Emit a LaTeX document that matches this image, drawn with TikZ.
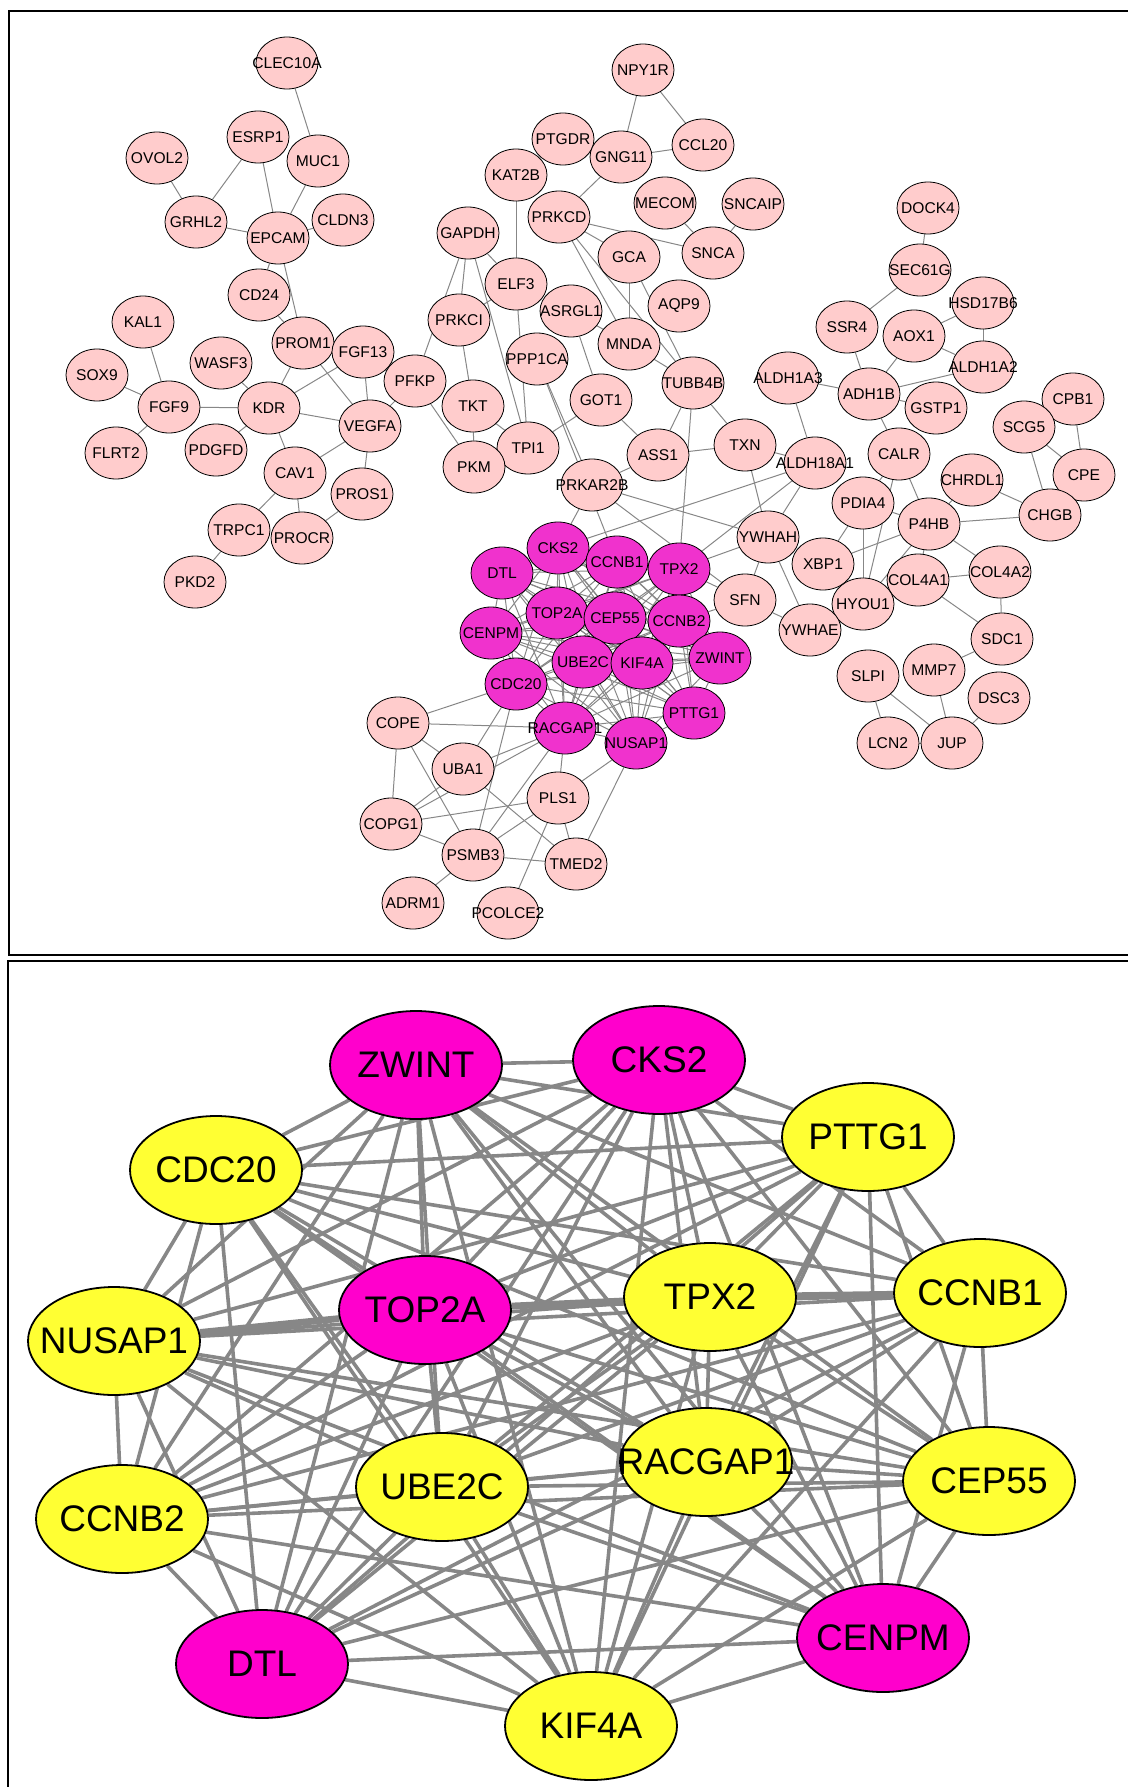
\documentclass[tikz,border=0pt]{standalone}
\usepackage{fontspec}
\setmainfont{Liberation Sans}
\usepackage{tikz}
\usetikzlibrary {backgrounds,
                 shapes.geometric}
\definecolor{genepink}{RGB}{255,204,204}
\definecolor{hubpink}{RGB}{240,50,205}
\definecolor{hubmagenta}{RGB}{255,0,204}
\definecolor{hubyellow}{RGB}{255,255,51}
\definecolor{linkgray}{RGB}{135,135,135}
\tikzset{
         gene/.style={ellipse, draw, line width=0.4pt, fill=genepink, inner sep=0pt,
                      minimum width=31pt, minimum height=26pt,
                      font=\fontsize{7.8}{9}\selectfont,
                      execute at begin node={\hbox to 0pt\bgroup\hss},
                      execute at end node={\hss\egroup}},
         hub/.style={gene, fill=hubpink},
         bighub/.style={gene, line width=0.9pt, fill=hubyellow,
                        minimum width=86pt, minimum height=54pt,
                        font=\fontsize{18.5}{21}\selectfont},
         bigkey/.style={bighub, fill=hubmagenta},
         link/.style={draw=linkgray, line width=0.5pt},
         hublink/.style={draw=linkgray, line width=1.8pt},
         heavylink/.style={draw=linkgray, line width=3.4pt},
         panel/.style={draw=black, line width=1pt},
}
\def\hubs{ZWINT,CKS2,PTTG1,CDC20,TOP2A,TPX2,CCNB1,NUSAP1,RACGAP1,CEP55,UBE2C,CCNB2,DTL,CENPM,KIF4A}

\begin{document}
\begin{tikzpicture}[x=0.5pt, y=-0.5pt]
    \useasboundingbox (0,0) rectangle (1128,1787);

    % Rahmen
    \draw[panel] (1130,11) -- (9,11) -- (9,955) -- (1130,955);
    \draw[panel] (1130,961) -- (8,961) -- (8,1790);

    % Oben links
    \node[gene] (CLEC10A) at (287,63) {CLEC10A};
    \node[gene] (ESRP1) at (258,137) {ESRP1};
    \node[gene] (MUC1) at (318,161) {MUC1};
    \node[gene] (OVOL2) at (157,158) {OVOL2};
    \node[gene] (GRHL2) at (196,222) {GRHL2};
    \node[gene] (EPCAM) at (278,238) {EPCAM};
    \node[gene] (CLDN3) at (343,220) {CLDN3};
    \node[gene] (CD24) at (259,295) {CD24};
    \node[gene] (KAL1) at (143,322) {KAL1};
    \node[gene] (PROM1) at (303,343) {PROM1};
    \node[gene] (FGF13) at (363,352) {FGF13};
    \node[gene] (WASF3) at (221,363) {WASF3};
    \node[gene] (SOX9) at (97,375) {SOX9};
    \node[gene] (FGF9) at (169,407) {FGF9};
    \node[gene] (KDR) at (269,408) {KDR};
    \node[gene] (VEGFA) at (370,426) {VEGFA};
    \node[gene] (FLRT2) at (116,453) {FLRT2};
    \node[gene] (PDGFD) at (216,450) {PDGFD};
    \node[gene] (CAV1) at (295,473) {CAV1};
    \node[gene] (PROS1) at (362,494) {PROS1};
    \node[gene] (TRPC1) at (239,530) {TRPC1};
    \node[gene] (PROCR) at (302,538) {PROCR};
    \node[gene] (PKD2) at (195,582) {PKD2};

    % Oben Mitte
    \node[gene] (NPY1R) at (643,70) {NPY1R};
    \node[gene] (PTGDR) at (563,139) {PTGDR};
    \node[gene] (GNG11) at (621,157) {GNG11};
    \node[gene] (CCL20) at (703,145) {CCL20};
    \node[gene] (KAT2B) at (516,175) {KAT2B};
    \node[gene] (MECOM) at (665,203) {MECOM};
    \node[gene] (SNCAIP) at (753,204) {SNCAIP};
    \node[gene] (PRKCD) at (559,217) {PRKCD};
    \node[gene] (GAPDH) at (468,233) {GAPDH};
    \node[gene] (SNCA) at (713,253) {SNCA};
    \node[gene] (GCA) at (629,257) {GCA};
    \node[gene] (ELF3) at (516,284) {ELF3};
    \node[gene] (AQP9) at (679,306) {AQP9};
    \node[gene] (ASRGL1) at (571,311) {ASRGL1};
    \node[gene] (PRKCI) at (459,320) {PRKCI};
    \node[gene] (MNDA) at (629,344) {MNDA};
    \node[gene] (PPP1CA) at (537,359) {PPP1CA};
    \node[gene] (PFKP) at (415,381) {PFKP};
    \node[gene] (TUBB4B) at (693,383) {TUBB4B};
    \node[gene] (GOT1) at (601,400) {GOT1};
    \node[gene] (TKT) at (473,406) {TKT};
    \node[gene] (TXN) at (745,445) {TXN};
    \node[gene] (TPI1) at (528,448) {TPI1};
    \node[gene] (ASS1) at (658,455) {ASS1};
    \node[gene] (PKM) at (474,467) {PKM};
    \node[gene] (PRKAR2B) at (592,485) {PRKAR2B};

    % Oben rechts
    \node[gene] (DOCK4) at (928,208) {DOCK4};
    \node[gene] (SEC61G) at (920,270) {SEC61G};
    \node[gene] (HSD17B6) at (983,303) {HSD17B6};
    \node[gene] (SSR4) at (847,327) {SSR4};
    \node[gene] (AOX1) at (914,336) {AOX1};
    \node[gene] (ALDH1A2) at (983,367) {ALDH1A2};
    \node[gene] (ALDH1A3) at (788,378) {ALDH1A3};
    \node[gene] (ADH1B) at (869,394) {ADH1B};
    \node[gene] (GSTP1) at (936,408) {GSTP1};
    \node[gene] (CPB1) at (1073,399) {CPB1};
    \node[gene] (SCG5) at (1024,427) {SCG5};
    \node[gene] (CALR) at (899,454) {CALR};
    \node[gene] (ALDH18A1) at (815,463) {ALDH18A1};
    \node[gene] (CPE) at (1084,475) {CPE};
    \node[gene] (CHRDL1) at (972,480) {CHRDL1};
    \node[gene] (PDIA4) at (863,503) {PDIA4};
    \node[gene] (CHGB) at (1050,515) {CHGB};
    \node[gene] (P4HB) at (929,524) {P4HB};
    \node[gene] (YWHAH) at (768,537) {YWHAH};
    \node[gene] (XBP1) at (823,564) {XBP1};
    \node[gene] (COL4A2) at (1000,572) {COL4A2};
    \node[gene] (COL4A1) at (918,580) {COL4A1};
    \node[gene] (SFN) at (745,600) {SFN};
    \node[gene] (HYOU1) at (863,604) {HYOU1};
    \node[gene] (YWHAE) at (810,630) {YWHAE};
    \node[gene] (SDC1) at (1002,639) {SDC1};
    \node[gene] (MMP7) at (934,670) {MMP7};
    \node[gene] (SLPI) at (868,676) {SLPI};
    \node[gene] (DSC3) at (999,698) {DSC3};
    \node[gene] (LCN2) at (888,743) {LCN2};
    \node[gene] (JUP) at (952,743) {JUP};

    % Oben unten
    \node[gene] (COPE) at (398,723) {COPE};
    \node[gene] (UBA1) at (463,769) {UBA1};
    \node[gene] (PLS1) at (558,798) {PLS1};
    \node[gene] (COPG1) at (391,824) {COPG1};
    \node[gene] (PSMB3) at (473,855) {PSMB3};
    \node[gene] (TMED2) at (576,864) {TMED2};
    \node[gene] (ADRM1) at (413,903) {ADRM1};
    \node[gene] (PCOLCE2) at (508,913) {PCOLCE2};

    % Cluster
    \node[hub] (CKS2) at (558,548) {CKS2};
    \node[hub] (DTL) at (502,573) {DTL};
    \node[hub] (CCNB1) at (617,562) {CCNB1};
    \node[hub] (TPX2) at (679,569) {TPX2};
    \node[hub] (TOP2A) at (557,613) {TOP2A};
    \node[hub] (CEP55) at (615,618) {CEP55};
    \node[hub] (CCNB2) at (679,621) {CCNB2};
    \node[hub] (CENPM) at (491,633) {CENPM};
    \node[hub] (ZWINT) at (720,658) {ZWINT};
    \node[hub] (UBE2C) at (583,662) {UBE2C};
    \node[hub] (KIF4A) at (642,663) {KIF4A};
    \node[hub] (CDC20) at (516,684) {CDC20};
    \node[hub] (PTTG1) at (694,713) {PTTG1};
    \node[hub] (RACGAP1) at (565,728) {RACGAP1};
    \node[hub] (NUSAP1) at (636,743) {NUSAP1};

    % Unten: Hub-Gene
    \node[bigkey] (hZWINT) at (416,1065) {ZWINT};
    \node[bigkey] (hCKS2) at (659,1060) {CKS2};
    \node[bighub] (hPTTG1) at (868,1137) {PTTG1};
    \node[bighub] (hCDC20) at (216,1170) {CDC20};
    \node[bigkey] (hTOP2A) at (425,1310) {TOP2A};
    \node[bighub] (hTPX2) at (710,1297) {TPX2};
    \node[bighub] (hCCNB1) at (980,1293) {CCNB1};
    \node[bighub] (hNUSAP1) at (114,1341) {NUSAP1};
    \node[bighub] (hRACGAP1) at (706,1462) {RACGAP1};
    \node[bighub] (hCEP55) at (989,1481) {CEP55};
    \node[bighub] (hUBE2C) at (442,1487) {UBE2C};
    \node[bighub] (hCCNB2) at (122,1519) {CCNB2};
    \node[bigkey] (hDTL) at (262,1664) {DTL};
    \node[bigkey] (hCENPM) at (883,1638) {CENPM};
    \node[bighub] (hKIF4A) at (591,1726) {KIF4A};

    % Kanten
    \begin{scope}[on background layer]
        \foreach \u/\v in {CLEC10A/MUC1, OVOL2/GRHL2, GRHL2/ESRP1, GRHL2/EPCAM, ESRP1/EPCAM,
                           MUC1/EPCAM, EPCAM/CLDN3, EPCAM/CD24, EPCAM/PROM1, CD24/PROM1,
                           PROM1/KDR, PROM1/VEGFA, FGF13/KDR, FGF13/VEGFA, KAL1/FGF9,
                           SOX9/FGF9, FLRT2/FGF9, FGF9/KDR, WASF3/KDR, PDGFD/KDR, KDR/VEGFA,
                           KDR/CAV1, VEGFA/PFKP, VEGFA/CAV1, VEGFA/PROS1, CAV1/TRPC1,
                           CAV1/PROCR, PROS1/PROCR, TRPC1/PKD2}
            \draw[link] (\u) -- (\v);
        \foreach \u/\v in {PFKP/GAPDH, PFKP/PKM, GAPDH/PRKCI, GAPDH/ELF3, GAPDH/TPI1,
                           ELF3/PRKCI, ELF3/TPI1, KAT2B/ELF3, PRKCI/TKT, TKT/PKM, TKT/TPI1,
                           GOT1/TPI1, GOT1/ASS1, ASRGL1/GOT1, ASRGL1/MNDA, NPY1R/GNG11,
                           NPY1R/CCL20, GNG11/CCL20, GNG11/PRKCD, MECOM/SNCA, SNCAIP/SNCA,
                           PRKCD/SNCA, PRKCD/GCA, PRKCD/MNDA, PRKCD/TUBB4B, GCA/MNDA,
                           GCA/TUBB4B, MNDA/TUBB4B, TUBB4B/ASS1, TUBB4B/TXN, TUBB4B/TPX2,
                           ASS1/TXN, ASS1/PRKAR2B, PPP1CA/PRKAR2B, PPP1CA/CCNB1,
                           PRKAR2B/CKS2, PRKAR2B/YWHAH, PRKAR2B/SFN, CKS2/ALDH18A1,
                           TPX2/ALDH18A1, TXN/ALDH18A1, TXN/YWHAH, YWHAH/SFN, YWHAH/TPX2,
                           SFN/TPX2, SFN/CCNB2}
            \draw[link] (\u) -- (\v);
        \foreach \u/\v in {DOCK4/SEC61G, SEC61G/SSR4, SSR4/ADH1B, AOX1/ADH1B, AOX1/HSD17B6,
                           AOX1/ALDH1A2, HSD17B6/ALDH1A2, ADH1B/ALDH1A2, ADH1B/ALDH1A3,
                           ADH1B/GSTP1, ADH1B/CALR, ALDH1A3/ALDH18A1, ALDH18A1/YWHAH,
                           CALR/PDIA4, CALR/P4HB, CALR/HYOU1, CPB1/CPE, SCG5/CPE, SCG5/CHGB,
                           CHRDL1/CHGB, P4HB/CHGB, P4HB/CHRDL1, PDIA4/P4HB, P4HB/XBP1,
                           PDIA4/XBP1, PDIA4/HYOU1, P4HB/COL4A1, P4HB/COL4A2, P4HB/HYOU1,
                           COL4A1/COL4A2, COL4A1/SDC1, COL4A2/SDC1, COL4A1/HYOU1, XBP1/HYOU1,
                           YWHAH/YWHAE, SFN/YWHAE, SDC1/MMP7, MMP7/JUP, SLPI/LCN2, SLPI/JUP,
                           DSC3/JUP, LCN2/JUP}
            \draw[link] (\u) -- (\v);
        \foreach \u/\v in {COPE/CDC20, COPE/RACGAP1, COPE/UBA1, COPE/COPG1, COPE/PSMB3,
                           UBA1/CDC20, UBA1/RACGAP1, UBA1/COPG1, UBA1/TMED2, PSMB3/CDC20,
                           PSMB3/RACGAP1, PSMB3/PLS1, PSMB3/TMED2, PSMB3/COPG1, PSMB3/ADRM1,
                           COPG1/PLS1, COPG1/RACGAP1, PLS1/RACGAP1, PLS1/NUSAP1, PLS1/TMED2,
                           PLS1/PCOLCE2, TMED2/NUSAP1}
            \draw[link] (\u) -- (\v);
        % Cluster und Hub-Netz
        \foreach \a [count=\i] in \hubs {
            \foreach \b [count=\j] in \hubs {
                \ifnum\j>\i
                    \draw[link] (\a) -- (\b);
                    \draw[hublink] (h\a) -- (h\b);
                \fi
            }
        }
        \draw[heavylink] (hNUSAP1) -- (hTOP2A);
        \draw[heavylink] (hTOP2A) -- (hTPX2);
        \draw[heavylink] (hTPX2) -- (hCCNB1);
    \end{scope}
\end{tikzpicture}
\end{document}
